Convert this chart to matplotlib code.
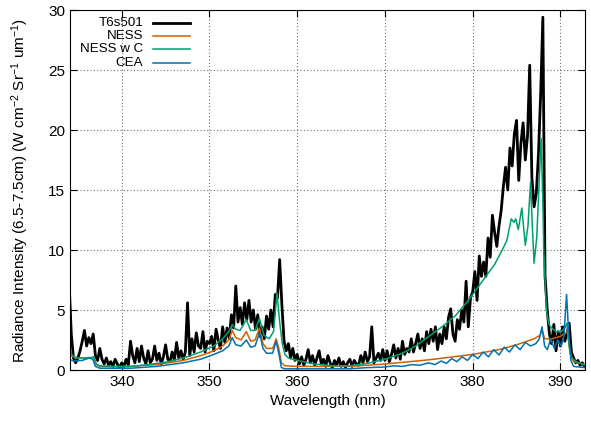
import numpy as np
import matplotlib
matplotlib.use("Agg")
import matplotlib.pyplot as plt

plt.rcParams['font.family'] = ['Liberation Sans', 'DejaVu Sans']
plt.rcParams['mathtext.default'] = 'regular'

# T6s501 measured spectrum, 0.25 nm steps starting at 334.0 nm
t6_start, t6_step = 334.0, 0.25
t6_y = [
    7.3, 3.0, 1.0, 0.6,   # 334
    1.0, 1.6, 2.4, 3.3,   # 335
    2.0, 2.7, 2.2, 3.0,   # 336
    1.2, 0.8, 1.8, 0.9,   # 337
    0.5, 1.0, 0.4, 0.7,   # 338
    0.3, 0.9, 0.5, 0.2,   # 339
    0.6, 0.3, 0.9, 0.4,   # 340
    2.4, 1.2, 0.6, 1.8,   # 341
    0.7, 2.0, 1.0, 0.5,   # 342
    1.6, 0.6, 0.9, 2.0,   # 343
    0.8, 1.4, 0.5, 1.1,   # 344
    2.1, 0.9, 0.7, 1.5,   # 345
    0.8, 2.3, 1.0, 1.6,   # 346
    0.9, 1.5, 5.6, 1.2,   # 347
    2.6, 1.5, 3.1, 2.0,   # 348
    1.8, 3.2, 1.5, 2.4,   # 349
    2.2, 2.8, 1.6, 3.4,   # 350
    2.5, 1.8, 3.6, 2.3,   # 351
    3.5, 2.6, 4.6, 3.5,   # 352
    7.0, 4.0, 5.2, 3.8,   # 353
    5.6, 4.2, 5.8, 4.0,   # 354
    5.0, 3.4, 4.6, 2.8,   # 355
    3.6, 2.6, 4.5, 3.4,   # 356
    5.0, 3.6, 6.3, 6.0,   # 357
    9.2, 5.5, 2.4, 1.6,   # 358
    2.2, 1.0, 1.8, 0.8,   # 359
    1.3, 0.5, 1.1, 0.4,   # 360
    0.9, 1.7, 0.6, 1.2,   # 361
    0.4, 1.0, 1.6, 0.5,   # 362
    0.9, 0.3, 1.2, 0.6,   # 363
    0.2, 0.8, 0.4, 1.0,   # 364
    0.3, 0.7, 0.2, 0.6,   # 365
    0.9, 0.3, 0.8, 0.5,   # 366
    0.4, 1.2, 0.6, 1.5,   # 367
    0.7, 1.1, 3.6, 0.6,   # 368
    1.0, 1.4, 0.8, 1.7,   # 369
    0.8, 1.6, 0.7, 1.3,   # 370
    2.1, 1.0, 1.8, 0.9,   # 371
    2.4, 1.3, 1.8, 1.5,   # 372
    2.6, 1.5, 2.2, 3.0,   # 373
    1.8, 2.6, 1.6, 3.2,   # 374
    2.2, 3.4, 2.4, 3.6,   # 375
    1.7, 3.0, 2.2, 3.6,   # 376
    2.6, 4.4, 5.1, 3.0,   # 377
    2.4, 4.2, 3.4, 5.0,   # 378
    4.0, 7.4, 3.6, 6.0,   # 379
    6.5, 8.2, 5.8, 9.5,   # 380
    7.8, 9.0, 7.8, 11.0,  # 381
    9.4, 12.9, 11.5, 10.3,  # 382
    12.0, 13.3, 15.3, 16.9,  # 383
    15.0, 18.5, 17.0, 19.7,  # 384
    20.8, 15.8, 18.9, 20.6,  # 385
    17.5, 19.5, 25.4, 16.0,  # 386
    13.6, 14.7, 18.0, 23.0,  # 387
    29.4, 7.8, 5.0, 3.0,  # 388
    2.2, 3.8, 1.6, 3.2,   # 389
    2.0, 3.6, 2.4, 3.0,   # 390
    3.9, 1.5, 1.0, 0.6,   # 391
    0.8, 0.4, 0.6, 0.3,   # 392
]
t6_x = t6_start + t6_step * np.arange(len(t6_y))

ness_x = [334.0, 334.3, 335.0, 336.8, 337.1, 337.5, 341.0, 344.0, 347.0, 349.0,
          350.5, 351.5, 352.2, 352.6, 353.0, 353.6, 354.2, 354.7, 355.2, 355.7,
          356.1, 356.5, 357.2, 357.6, 357.9, 358.2, 358.6, 360.0, 366.0, 370.0,
          375.0, 380.0, 383.0, 385.0, 387.0, 387.7, 387.9, 388.2, 389.0, 390.0,
          390.8, 391.1, 391.5, 392.8]
ness_y = [1.4, 1.15, 1.0, 1.0, 0.45, 0.3, 0.3, 0.45, 0.8, 1.2,
          1.6, 2.0, 2.5, 3.3, 2.7, 2.5, 3.2, 2.4, 2.5, 3.5,
          2.2, 1.8, 1.8, 2.6, 1.8, 0.6, 0.35, 0.3, 0.3, 0.5,
          0.85, 1.3, 1.7, 2.1, 2.6, 2.9, 3.4, 2.6, 2.6, 2.8,
          3.2, 1.4, 0.7, 0.45]

nessc_x = [334.0, 334.3, 334.6, 335.5, 336.5, 336.8, 337.1, 337.5, 339.0, 341.0,
           343.0, 345.0, 347.0, 349.0, 350.5, 351.5, 352.2, 352.6, 353.0, 353.5,
           354.2, 354.7, 355.2, 355.7, 356.2, 356.8, 357.3, 357.7, 358.0, 358.3,
           358.6, 359.0, 360.0, 362.0, 364.0, 366.0, 368.0, 370.0, 372.0, 373.5,
           375.0, 376.5, 378.0, 379.5, 380.5, 381.5, 382.5, 383.3, 383.9, 384.4,
           384.7, 384.9, 385.2, 385.6, 386.0, 386.3, 386.6, 386.8, 387.0, 387.3,
           387.6, 387.8, 388.0, 388.1, 388.4, 388.7, 389.0, 389.5, 390.1, 390.5,
           390.75, 391.0, 391.3, 391.8, 392.8]
nessc_y = [2.0, 1.3, 1.05, 1.0, 1.05, 1.1, 0.5, 0.35, 0.28, 0.3,
           0.45, 0.65, 1.0, 1.5, 2.0, 2.6, 3.2, 3.8, 3.4, 3.3,
           4.2, 3.3, 3.3, 4.3, 2.9, 2.6, 3.2, 6.4, 4.0, 2.2,
           1.3, 1.0, 0.8, 0.5, 0.35, 0.35, 0.55, 0.9, 1.4, 2.0,
           2.8, 3.6, 4.5, 5.8, 6.8, 7.8, 8.8, 9.9, 10.8, 12.6,
           12.3, 12.6, 11.7, 13.5, 10.4, 12.0, 15.7, 12.0, 8.9, 11.0,
           16.0, 19.3, 14.0, 10.0, 5.0, 3.8, 3.5, 3.2, 3.2, 3.5,
           3.9, 2.0, 1.0, 0.7, 0.4]

cea_x = [334.0, 334.5, 335.5, 336.3, 336.7, 337.0, 337.5, 341.0, 344.0, 347.0,
         349.0, 350.5, 351.5, 352.2, 352.6, 353.0, 353.6, 354.2, 354.7, 355.2,
         355.7, 356.1, 356.5, 357.2, 357.6, 357.9, 358.2, 358.6, 366.0, 368.0,
         370.0, 371.0, 372.0, 373.0, 374.0, 375.0, 375.7, 376.4, 377.0, 377.6,
         378.2, 378.8, 379.4, 380.0, 380.6, 381.2, 381.8, 382.4, 383.0, 383.6,
         384.2, 384.8, 385.4, 386.0, 386.6, 387.2, 387.6, 387.9, 388.2, 388.5,
         388.9, 389.3, 389.7, 390.1, 390.4, 390.7, 390.95, 391.2, 391.5, 392.8]
cea_y = [0.9, 0.75, 0.8, 1.0, 0.9, 0.3, 0.15, 0.15, 0.3, 0.6,
         0.9, 1.3, 1.6, 2.0, 2.7, 2.1, 2.0, 2.5, 1.9, 2.0,
         3.1, 1.8, 1.4, 1.4, 2.4, 1.4, 0.2, 0.1, 0.1, 0.2,
         0.25, 0.35, 0.3, 0.45, 0.4, 0.6, 0.45, 0.75, 0.55, 0.95,
         0.7, 1.1, 0.8, 1.3, 0.95, 1.5, 1.1, 1.7, 1.25, 1.9,
         1.5, 2.1, 1.7, 2.3, 2.0, 2.2, 2.6, 3.6, 2.0, 1.7,
         2.6, 1.8, 2.5, 2.0, 2.8, 6.3, 3.0, 0.8, 0.3, 0.2]

labels = ['T6s501', 'NESS', 'NESS w C', 'CEA']
colors = ['black', '#D55E00', '#009E73', '#0072B2']
widths = [2.0, 1.1, 1.1, 1.1]

fig = plt.figure(figsize=(5.91, 4.21), dpi=100)
ax = fig.add_axes([0.1184, 0.1211, 0.8714, 0.8551])

series = [(t6_x, t6_y), (ness_x, ness_y), (nessc_x, nessc_y), (cea_x, cea_y)]
for (x, y), c, w in zip(series, colors, widths):
    ax.plot(x, y, color=c, lw=w)

ax.set_xlim(334.1, 392.8)
ax.set_ylim(0, 30)
ax.set_xticks(np.arange(340, 391, 10))
ax.set_yticks(np.arange(0, 31, 5))
ax.grid(True, color='#707070', linestyle=(0, (1, 2)), lw=0.8)
ax.tick_params(direction='in', top=True, right=True, labelsize=11, length=5)
ax.set_xlabel('Wavelength (nm)', fontsize=11)
ax.set_ylabel('Radiance Intensity (6.5-7.5cm) (W cm$^{-2}$ Sr$^{-1}$ um$^{-1}$)',
              fontsize=11, labelpad=12)

# gnuplot-style key: text right-aligned, sample line after it
key_y = [0.964, 0.929, 0.892, 0.854]
for ky, lab, c, w in zip(key_y, labels, colors, widths):
    ax.text(0.142, ky, lab, transform=ax.transAxes, ha='right', va='center',
            fontsize=9.6)
    ax.plot([0.161, 0.233], [ky, ky], transform=ax.transAxes, color=c, lw=w)

fig.savefig('out.png', dpi=100)
